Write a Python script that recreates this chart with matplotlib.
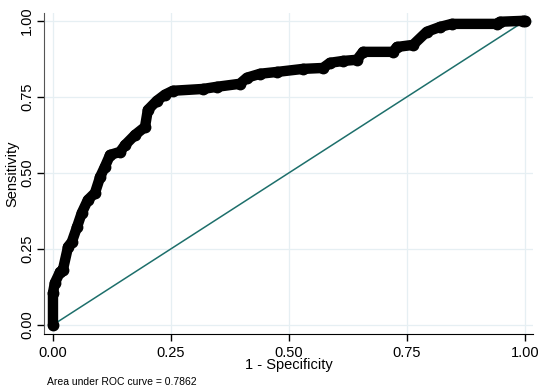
import matplotlib
matplotlib.use("Agg")
import matplotlib.pyplot as plt
import numpy as np

matplotlib.rcParams["font.family"] = ["Liberation Sans", "DejaVu Sans"]

# ROC points (1 - specificity, sensitivity)
fpr = [0.000, 0.000, 0.004, 0.015, 0.021, 0.032, 0.040, 0.051, 0.061, 0.074,
       0.089, 0.100, 0.110, 0.121, 0.142, 0.153, 0.174, 0.195, 0.201, 0.220,
       0.237, 0.254, 0.318, 0.347, 0.396, 0.411, 0.439, 0.475, 0.530, 0.572,
       0.587, 0.614, 0.644, 0.657, 0.720, 0.729, 0.763, 0.792, 0.820, 0.845,
       0.941, 0.947, 0.996, 1.000]
tpr = [0.000, 0.105, 0.138, 0.174, 0.181, 0.257, 0.273, 0.322, 0.368, 0.411,
       0.434, 0.487, 0.520, 0.559, 0.569, 0.592, 0.625, 0.651, 0.707, 0.737,
       0.757, 0.770, 0.776, 0.783, 0.793, 0.813, 0.826, 0.832, 0.842, 0.845,
       0.862, 0.868, 0.872, 0.898, 0.898, 0.914, 0.921, 0.964, 0.980, 0.990,
       0.990, 0.997, 1.000, 1.000]
ticks = [0.0, 0.25, 0.5, 0.75, 1.0]
tick_labels = ["0.00", "0.25", "0.50", "0.75", "1.00"]
auc_text = "Area under ROC curve = 0.7862"

fig = plt.figure(figsize=(5.5, 3.92), dpi=100)
ax = fig.add_axes([0.08, 0.148, 0.889, 0.819])

ax.grid(True, color="#e6eff3", linewidth=0.9)
ax.set_axisbelow(True)

ax.plot([0, 1], [0, 1], color="#1d6f6b", linewidth=1.1, zorder=2)
ax.plot(fpr, tpr, color="black", linewidth=7.5, solid_capstyle="round",
        solid_joinstyle="round", zorder=3)
ax.plot(fpr, tpr, "o", color="black", markersize=7.5, zorder=3)

ax.set_xlim(-0.019, 1.017)
ax.set_ylim(-0.030, 1.026)
ax.set_xticks(ticks)
ax.set_xticklabels(tick_labels)
ax.set_yticks(ticks)
ax.set_yticklabels(tick_labels, rotation=90, va="center")
ax.tick_params(axis="both", labelsize=10.5, length=5, width=1, direction="out")
ax.tick_params(axis="y", pad=2)

ax.spines["top"].set_visible(False)
ax.spines["right"].set_visible(False)
ax.spines["left"].set_color("#555555")

ax.set_xlabel("1 - Specificity", fontsize=10.5, labelpad=-1)
ax.set_ylabel("Sensitivity", fontsize=10.5, labelpad=1)

fig.text(0.085, 0.017, auc_text, fontsize=7.5)

fig.savefig("out.png", dpi=100)
